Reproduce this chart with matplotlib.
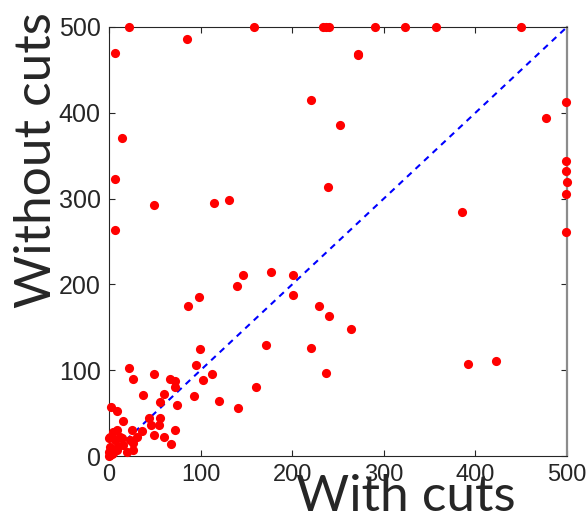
import numpy as np
import matplotlib
matplotlib.use("Agg")
import matplotlib.pyplot as plt

# values (x = with cuts, y = without cuts)
with_cuts = [21.8, 158, 233.6, 237, 240, 290, 323, 357, 450,
             272, 272, 6.5, 85, 221, 252, 14, 6.5, 239, 131,
             49, 115, 7,
             146.6, 177, 201, 140, 201, 98, 86.6, 229, 240, 264,
             99, 171, 221, 392, 422, 237,
             499, 477, 499, 499, 499.6, 499, 499, 385.7,
             94.6, 112.4, 103, 49, 67, 72.4, 72.4, 60.4, 93, 55.3, 74.2,
             120, 141, 160, 21.8, 26.2, 37.5,
             1.8, 8.4, 15.6, 43.5, 55.7, 46.2, 55, 35.5, 24.9, 8.6,
             71.7, 49, 59.5, 67.8, 13.8, 0.4, 4.7,
             1.1, 6.5, 12, 15.6, 23, 26.5, 30.2, 1.1, 8.4, 19.3, 4.7,
             0.5, 26.5, 1, 3, 0.3, 10]
without_cuts = [500, 500, 500, 500, 500, 500, 500, 500, 500,
                467, 468, 470, 485.6, 415, 386, 371, 323, 313, 298,
                292.5, 294.5, 263,
                211, 215, 211, 198.5, 187.6, 185, 175, 174.8, 163.5, 148.5,
                125, 129.7, 125.5, 107, 110.7, 96.7,
                412, 394, 344, 332, 319, 305, 261.5, 284.7,
                106.4, 95.4, 88.7, 96, 89.4, 88, 80.5, 72, 69.5, 63.3, 60,
                64.2, 56, 80, 103, 89.7, 71.2,
                57.2, 52, 40.5, 44.4, 44, 36.3, 36.2, 28.9, 30.5, 29.9,
                30, 24.2, 21.8, 13.8, 20.6, 20.6, 28.3,
                22.5, 18.6, 22.5, 12.8, 18.6, 14.8, 22.5, 10.8, 7, 5, 3.1,
                5, 7, 1, 2, 0.5, 12]
diag = [0, 500]
ticks = [0, 100, 200, 300, 400, 500]

plt.rcParams['font.family'] = ['Liberation Sans', 'DejaVu Sans']

fig = plt.figure(figsize=(5.86, 5.25), dpi=100)
ax = fig.add_axes([0.186, 0.1314, 0.7816, 0.8172])

ax.plot(with_cuts, without_cuts, 'o', color='#ff0000', markersize=6.6,
        markeredgewidth=0, clip_on=False, zorder=3)
ax.plot(diag, diag, color='#0000ff', linestyle=(0, (3, 2.6)), lw=1.5, zorder=2)

ax.set_xlim(0, 500)
ax.set_ylim(0, 500)
ax.set_xticks(ticks)
ax.set_yticks(ticks)
ax.tick_params(direction='in', length=4, width=0.8, colors='#262626',
               labelsize=17, top=True, right=True, pad=6)
ax.tick_params(axis='y', labelsize=18)
for s in ['left', 'bottom', 'top']:
    ax.spines[s].set_color('#262626')
    ax.spines[s].set_linewidth(0.8)
ax.spines['right'].set_color('#8c8c8c')
ax.spines['right'].set_linewidth(1.6)

ax.set_xlabel('With cuts', fontsize=37, family='Lato', color='#262626')
ax.xaxis.set_label_coords(0.648, -0.096)
ax.xaxis.label.set_va('center')
ax.set_ylabel('Without cuts', fontsize=37, family='Lato', color='#262626')
ax.yaxis.set_label_coords(-0.157, 0.69)
ax.yaxis.label.set_va('center')

plt.savefig('out.png', dpi=100)
